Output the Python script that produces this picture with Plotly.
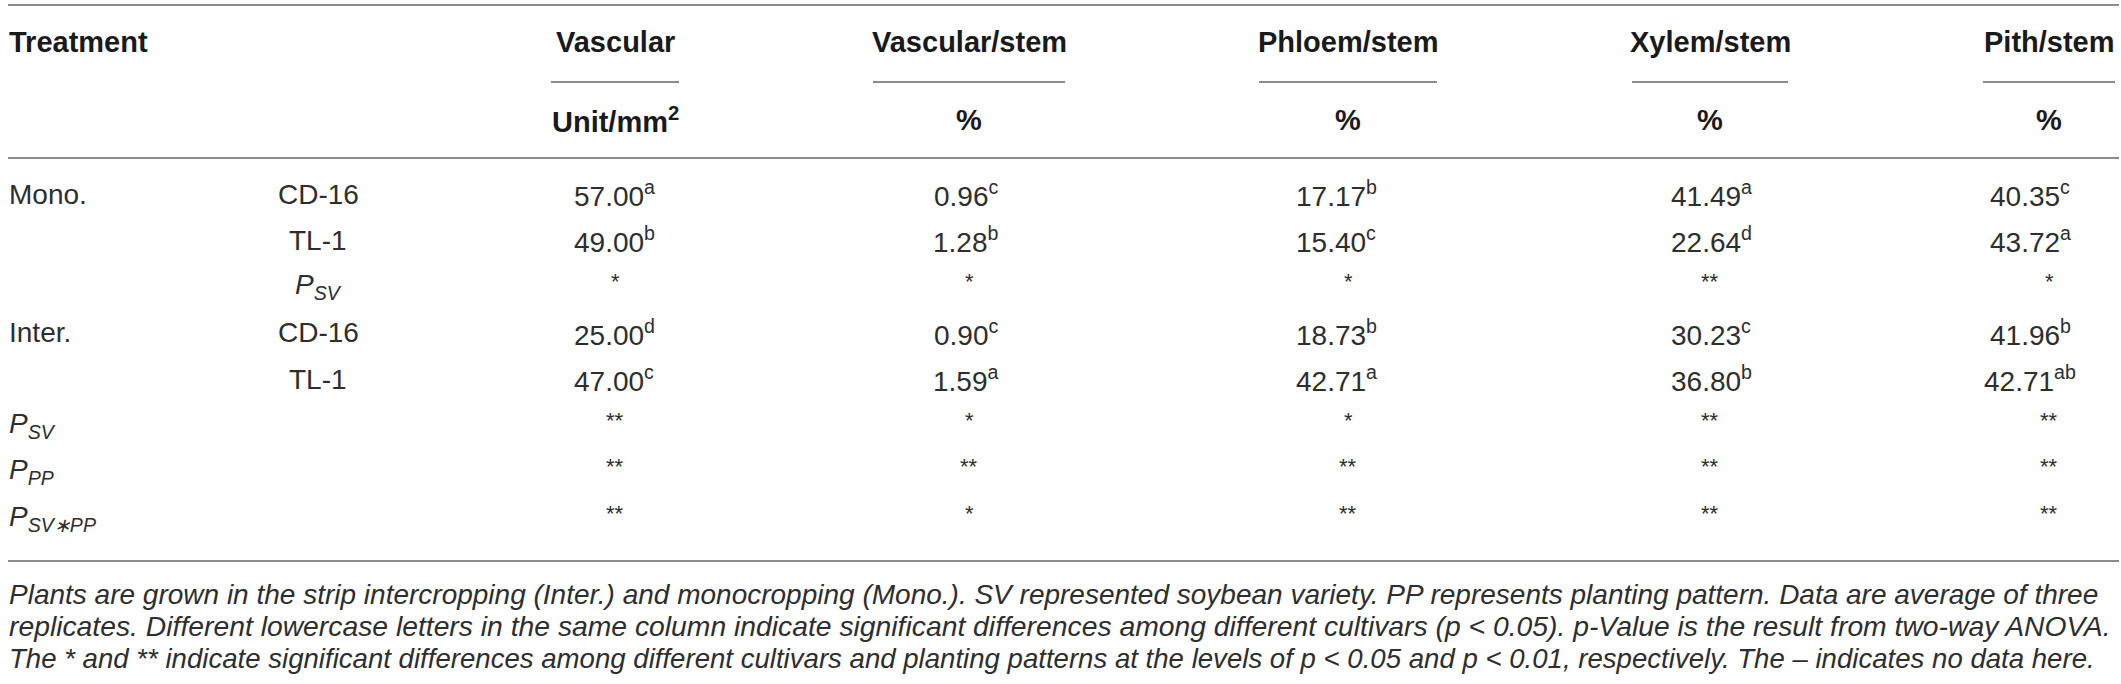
"""Table: stem anatomy of two soybean cultivars under mono- and intercropping."""
import plotly.graph_objects as go

# ── Data ───────────────────────────────────────────────────────────────────────
COLUMNS = ["Vascular", "Vascular/stem", "Phloem/stem", "Xylem/stem", "Pith/stem"]
UNITS = ["Unit/mm<sup>2</sup>", "%", "%", "%", "%"]

PATTERNS = ["Mono.", "", "", "Inter.", ""]
CULTIVARS = ["CD-16", "TL-1", "<i>P</i><sub><i>SV</i></sub>", "CD-16", "TL-1"]
P_LABELS = ["<i>P</i><sub><i>SV</i></sub>", "<i>P</i><sub><i>PP</i></sub>",
            "<i>P</i><sub><i>SV∗PP</i></sub>"]

# rows: Mono CD-16, Mono TL-1, Mono P_SV, Inter CD-16, Inter TL-1
VASCULAR = ["57.00", "49.00", None, "25.00", "47.00"]
VASCULAR_L = ["a", "b", "*", "d", "c"]
VASC_STEM = ["0.96", "1.28", None, "0.90", "1.59"]
VASC_STEM_L = ["c", "b", "*", "c", "a"]
PHLOEM = ["17.17", "15.40", None, "18.73", "42.71"]
PHLOEM_L = ["b", "c", "*", "b", "a"]
XYLEM = ["41.49", "22.64", None, "30.23", "36.80"]
XYLEM_L = ["a", "d", "**", "c", "b"]
PITH = ["40.35", "43.72", None, "41.96", "42.71"]
PITH_L = ["c", "a", "*", "b", "ab"]

# two-way ANOVA rows: P_SV, P_PP, P_SV*PP
ANOVA = [
    ["**", "**", "**"],
    ["*", "**", "*"],
    ["*", "**", "**"],
    ["**", "**", "**"],
    ["**", "**", "**"],
]

FOOTNOTE = [
    "Plants are grown in the strip intercropping (Inter.) and monocropping (Mono.). "
    "SV represented soybean variety. PP represents planting pattern. Data are average of three",
    "replicates. Different lowercase letters in the same column indicate significant differences "
    "among different cultivars (<i>p</i> &lt; 0.05). <i>p</i>-Value is the result from two-way ANOVA.",
    "The * and ** indicate significant differences among different cultivars and planting patterns "
    "at the levels of <i>p</i> &lt; 0.05 and <i>p</i> &lt; 0.01, respectively. The – indicates no data here.",
]

# ── Layout (pixel positions on a 2121 x 684 canvas) ────────────────────────────
W, H = 2121, 684
X_LEFT, X_CULT = 7, 318
COL_X = [615, 969, 1348, 1710, 2049]        # header / star centres
NUM_X = [614, 966, 1336, 1711, 2030]        # centres of value + letter
RULE_HALF = [64, 96, 89, 78, 66]
Y_HEAD, Y_SHORT, Y_UNIT = 42, 82, 120
Y_TOP, Y_MID, Y_BOT = 5, 158, 561
ROW_Y = [194 + 46.3 * i for i in range(8)]
FOOT_Y = [594, 626, 658]
FOOT_SIZE = [28, 28.3, 27.6]   # per line, to mimic the justified block

FONT = "Liberation Sans, Arial, Helvetica, sans-serif"
TXT = "#2e2e2e"
HEAD = "#1a1a1a"
RULE = "#8c8c8c"

fig = go.Figure()
ann = []


def text(x, y, s, anchor="center", size=28, color=TXT, yanchor="middle"):
    ann.append(dict(x=x, y=y, xref="x", yref="y", text=s, showarrow=False,
                    xanchor=anchor, yanchor=yanchor,
                    font=dict(family=FONT, size=size, color=color)))


# header
text(X_LEFT, Y_HEAD, "<b>Treatment</b>", anchor="left", size=29, color=HEAD)
shapes = []
for cx, name, unit, hw in zip(COL_X, COLUMNS, UNITS, RULE_HALF):
    text(cx, Y_HEAD, f"<b>{name}</b>", size=29, color=HEAD)
    text(cx, Y_UNIT, f"<b>{unit}</b>", size=29, color=HEAD)
    shapes.append(dict(type="line", xref="x", yref="y", x0=cx - hw, x1=cx + hw,
                       y0=Y_SHORT, y1=Y_SHORT, line=dict(color=RULE, width=2)))

for y in (Y_TOP, Y_MID, Y_BOT):
    shapes.append(dict(type="line", xref="x", yref="y", x0=8, x1=W - 2,
                       y0=y, y1=y, line=dict(color=RULE, width=2)))

# treatment rows
for i, lab in enumerate(PATTERNS):
    if lab:
        text(X_LEFT, ROW_Y[i], lab, anchor="left")
for i, lab in enumerate(CULTIVARS):
    text(X_CULT, ROW_Y[i], lab)
for k, lab in enumerate(P_LABELS):
    text(X_LEFT, ROW_Y[5 + k], lab, anchor="left")

values = [VASCULAR, VASC_STEM, PHLOEM, XYLEM, PITH]
letters = [VASCULAR_L, VASC_STEM_L, PHLOEM_L, XYLEM_L, PITH_L]
for c, (vals, lets) in enumerate(zip(values, letters)):
    for i, (v, l) in enumerate(zip(vals, lets)):
        if v is None:
            text(COL_X[c], ROW_Y[i] - 5, l, size=22)
        else:
            text(NUM_X[c], ROW_Y[i], f"{v}<sup>{l}</sup>")
    for k, star in enumerate(ANOVA[c]):
        text(COL_X[c], ROW_Y[5 + k] - 5, star, size=22)

for y, line, fs in zip(FOOT_Y, FOOTNOTE, FOOT_SIZE):
    text(X_LEFT, y, f"<i>{line}</i>", anchor="left", size=fs)

fig.update_layout(
    width=W, height=H, margin=dict(l=0, r=0, t=0, b=0),
    paper_bgcolor="white", plot_bgcolor="white",
    xaxis=dict(range=[0, W], visible=False, fixedrange=True),
    yaxis=dict(range=[H, 0], visible=False, fixedrange=True),
    annotations=ann, shapes=shapes, showlegend=False,
)

fig.write_html("out.html", config={"displayModeBar": False},
               post_script="document.body.style.margin='0';")
